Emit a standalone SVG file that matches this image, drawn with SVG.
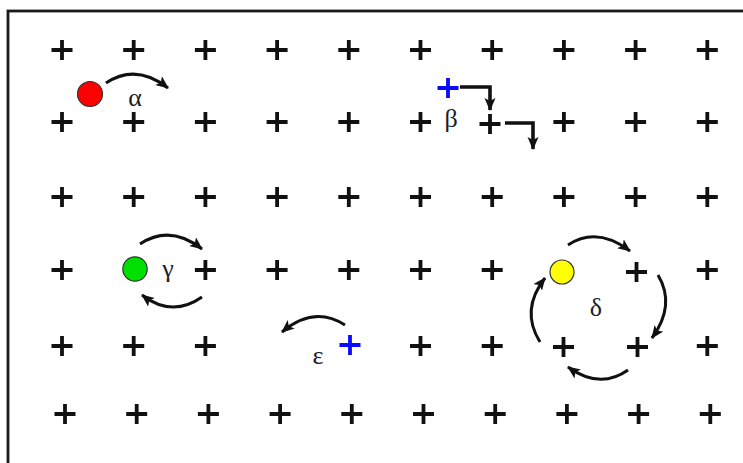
<svg xmlns="http://www.w3.org/2000/svg" xmlns:xlink="http://www.w3.org/1999/xlink" width="743" height="463" viewBox="0 0 743 463">
  <style>
    .site { stroke: #111; stroke-width: 3.8; fill: none; }
    .site-blue { stroke: #0a0aff; stroke-width: 3.8; fill: none; }
    .hop { stroke: #111; stroke-width: 3; fill: none; marker-end: url(#head); }
    .step { stroke-width: 3.6; }
    .atom { stroke: #333; stroke-width: 1.2; }
    .label { font-family: "Liberation Serif", "Times New Roman", serif; font-size: 26px; fill: #1c1c2a; text-anchor: middle; }
  </style>
  <defs>
    <!-- lattice site marker -->
    <path id="plus" d="M-10.5,0 H10.5 M0,-10 V10"/>
    <marker id="head" markerUnits="userSpaceOnUse" markerWidth="16" markerHeight="13" refX="12" refY="5.5" orient="auto">
      <path d="M0,0 L13,5.5 L0,11 L3,5.5 Z" fill="#111"/>
    </marker>
  </defs>

  <rect x="0" y="0" width="743" height="463" fill="#fff"/>
  <!-- frame (continues past the right and bottom edges) -->
  <rect x="8" y="11" width="800" height="520" fill="none" stroke="#1a1a1a" stroke-width="2.8"/>

  <!-- lattice -->
  <g id="lattice" class="site">
    <!-- row 1 -->
    <use xlink:href="#plus" x="62" y="50"/><use xlink:href="#plus" x="133.7" y="50"/><use xlink:href="#plus" x="205.4" y="50"/><use xlink:href="#plus" x="277.1" y="50"/><use xlink:href="#plus" x="348.8" y="50"/>
    <use xlink:href="#plus" x="420.5" y="50"/><use xlink:href="#plus" x="492.2" y="50"/><use xlink:href="#plus" x="563.9" y="50"/><use xlink:href="#plus" x="635.6" y="50"/><use xlink:href="#plus" x="707.3" y="50"/>
    <!-- row 2 -->
    <use xlink:href="#plus" x="62" y="122"/><use xlink:href="#plus" x="133.7" y="122"/><use xlink:href="#plus" x="205.4" y="122"/><use xlink:href="#plus" x="277.1" y="122"/><use xlink:href="#plus" x="348.8" y="122"/>
    <use xlink:href="#plus" x="420.5" y="122"/><use xlink:href="#plus" x="490" y="124"/><use xlink:href="#plus" x="563.9" y="122"/><use xlink:href="#plus" x="635.6" y="122"/><use xlink:href="#plus" x="707.3" y="122"/>
    <!-- row 3 -->
    <use xlink:href="#plus" x="62" y="197"/><use xlink:href="#plus" x="133.7" y="197"/><use xlink:href="#plus" x="205.4" y="197"/><use xlink:href="#plus" x="277.1" y="197"/><use xlink:href="#plus" x="348.8" y="197"/>
    <use xlink:href="#plus" x="420.5" y="197"/><use xlink:href="#plus" x="492.2" y="197"/><use xlink:href="#plus" x="563.9" y="197"/><use xlink:href="#plus" x="635.6" y="197"/><use xlink:href="#plus" x="707.3" y="197"/>
    <!-- row 4 -->
    <use xlink:href="#plus" x="62" y="270"/><use xlink:href="#plus" x="205.4" y="270"/><use xlink:href="#plus" x="277.1" y="270"/><use xlink:href="#plus" x="348.8" y="270"/>
    <use xlink:href="#plus" x="420.5" y="270"/><use xlink:href="#plus" x="492.2" y="270"/><use xlink:href="#plus" x="636.5" y="272"/><use xlink:href="#plus" x="707.3" y="270"/>
    <!-- row 5 -->
    <use xlink:href="#plus" x="62" y="346"/><use xlink:href="#plus" x="133.7" y="346"/><use xlink:href="#plus" x="205.4" y="346"/>
    <use xlink:href="#plus" x="420.5" y="346"/><use xlink:href="#plus" x="492.2" y="346"/><use xlink:href="#plus" x="563.5" y="347"/><use xlink:href="#plus" x="637.5" y="347"/><use xlink:href="#plus" x="707.3" y="346"/>
    <!-- row 6 -->
    <use xlink:href="#plus" x="65" y="414"/><use xlink:href="#plus" x="136.7" y="414"/><use xlink:href="#plus" x="208.4" y="414"/><use xlink:href="#plus" x="280.1" y="414"/><use xlink:href="#plus" x="351.8" y="414"/>
    <use xlink:href="#plus" x="423.5" y="414"/><use xlink:href="#plus" x="495.2" y="414"/><use xlink:href="#plus" x="566.9" y="414"/><use xlink:href="#plus" x="638.6" y="414"/><use xlink:href="#plus" x="710.3" y="414"/>
  </g>

  <!-- alpha: atom hopping to the next site -->
  <g id="alpha">
    <circle class="atom" cx="90" cy="94" r="12.5" fill="#ff0000"/>
    <text class="label" x="135" y="106">α</text>
  </g>

  <!-- beta: vacancy-type defect stepping along -->
  <g id="beta">
    <use xlink:href="#plus" class="site-blue" x="448" y="88"/>
    <text class="label" x="451" y="127">β</text>
  </g>

  <!-- gamma: atom exchanging with neighbour -->
  <g id="gamma">
    <circle class="atom" cx="135" cy="269" r="12.2" fill="#00e000"/>
    <text class="label" x="168" y="277">γ</text>
  </g>

  <!-- delta: ring exchange -->
  <g id="delta">
    <circle class="atom" cx="562" cy="272" r="12" fill="#ffff00"/>
    <text class="label" x="596" y="316">δ</text>
  </g>

  <!-- epsilon: interstitial-type defect -->
  <g id="epsilon">
    <use xlink:href="#plus" class="site-blue" x="350" y="345"/>
    <text class="label" x="318" y="364">ε</text>
  </g>

  <!-- jump paths -->
  <g id="connectors">
    <path class="hop" d="M106,83 Q136,63 168,88"/>
    <path class="hop step" d="M460,87 H490 V110"/>
    <path class="hop step" d="M505,123 H533 V149"/>
    <path class="hop" d="M140,244 Q170,224 202,249"/>
    <path class="hop" d="M202,297 Q172,318 142,295"/>
    <path class="hop" d="M345,325 Q314,305 282,332"/>
    <path class="hop" d="M568,245 Q597,226 630,251"/>
    <path class="hop" d="M658,275 Q676,305 652,338"/>
    <path class="hop" d="M628,370 Q600,390 568,367"/>
    <path class="hop" d="M540,342 Q520,310 545,278"/>
  </g>
</svg>
